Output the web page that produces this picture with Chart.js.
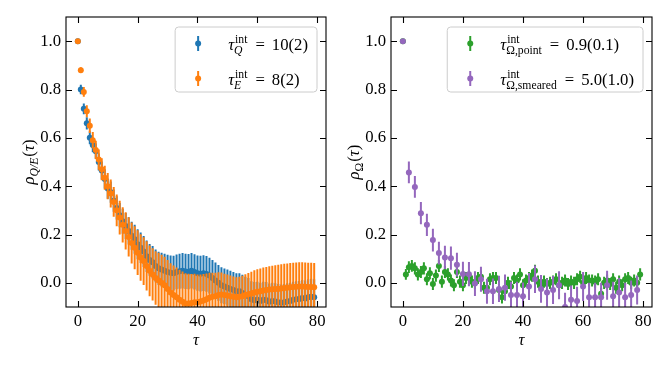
<!DOCTYPE html>
<html>
<head>
<meta charset="utf-8">
<script src="https://cdn.jsdelivr.net/npm/chart.js@4.4.1/dist/chart.umd.min.js"></script>
<style>
  html, body { margin: 0; padding: 0; background: #fff; }
  #wrap { position: relative; width: 670px; height: 365px; }
  .panel { position: absolute; top: 0; }
  #left { left: 0; }
  #right { left: 335px; }
</style>
</head>
<body>
<div id="wrap">
  <div class="panel" id="left"><canvas id="chartQE" width="335" height="365"></canvas></div>
  <div class="panel" id="right"><canvas id="chartOmega" width="335" height="365"></canvas></div>
</div>
<script>
// ---- data: left panel (topological charge Q and energy E) ----
const tauQE = [0, 1, 2, 3, 4, 5, 6, 7, 8, 9, 10, 11, 12, 13, 14, 15, 16, 17, 18, 19,
  20, 21, 22, 23, 24, 25, 26, 27, 28, 29, 30, 31, 32, 33, 34, 35, 36, 37, 38, 39,
  40, 41, 42, 43, 44, 45, 46, 47, 48, 49, 50, 51, 52, 53, 54, 55, 56, 57, 58, 59,
  60, 61, 62, 63, 64, 65, 66, 67, 68, 69, 70, 71, 72, 73, 74, 75, 76, 77, 78, 79];

const rhoQ = [1.0, 0.80, 0.72, 0.66, 0.60, 0.57, 0.545, 0.50, 0.465, 0.43,
  0.39, 0.375, 0.34, 0.31, 0.28, 0.255, 0.235, 0.215, 0.195, 0.18,
  0.16, 0.145, 0.13, 0.11, 0.095, 0.085, 0.07, 0.06, 0.055, 0.05,
  0.045, 0.042, 0.04, 0.045, 0.048, 0.05, 0.047, 0.046, 0.05, 0.045,
  0.04, 0.038, 0.04, 0.037, 0.03, 0.02, 0.01, 0.0, -0.01, -0.015,
  -0.02, -0.025, -0.03, -0.035, -0.035, -0.042, -0.05, -0.055, -0.068, -0.072,
  -0.07, -0.075, -0.07, -0.072, -0.078, -0.075, -0.077, -0.08, -0.082, -0.08,
  -0.077, -0.075, -0.07, -0.068, -0.067, -0.063, -0.065, -0.06, -0.058, -0.06];

const errQ = [0, 0.02, 0.022, 0.025, 0.027, 0.03, 0.032, 0.035, 0.037, 0.04,
  0.042, 0.044, 0.046, 0.048, 0.05, 0.052, 0.054, 0.056, 0.058, 0.06,
  0.062, 0.063, 0.064, 0.065, 0.066, 0.067, 0.068, 0.069, 0.07, 0.07,
  0.071, 0.071, 0.072, 0.072, 0.072, 0.073, 0.073, 0.073, 0.073, 0.073,
  0.073, 0.074, 0.074, 0.074, 0.074, 0.074, 0.074, 0.074, 0.074, 0.074,
  0.075, 0.075, 0.075, 0.075, 0.075, 0.075, 0.075, 0.075, 0.075, 0.075,
  0.075, 0.075, 0.075, 0.075, 0.075, 0.075, 0.075, 0.075, 0.075, 0.075,
  0.075, 0.075, 0.075, 0.075, 0.075, 0.075, 0.075, 0.075, 0.075, 0.075];

const rhoE = [1.0, 0.88, 0.79, 0.71, 0.65, 0.59, 0.55, 0.51, 0.47, 0.435,
  0.40, 0.37, 0.335, 0.30, 0.27, 0.24, 0.215, 0.19, 0.165, 0.145,
  0.125, 0.105, 0.09, 0.07, 0.05, 0.035, 0.02, 0.01, 0.0, -0.01,
  -0.025, -0.04, -0.05, -0.06, -0.07, -0.078, -0.085, -0.085, -0.083, -0.08,
  -0.08, -0.077, -0.073, -0.068, -0.062, -0.058, -0.055, -0.05, -0.048, -0.05,
  -0.052, -0.055, -0.058, -0.06, -0.058, -0.055, -0.05, -0.047, -0.044, -0.04,
  -0.037, -0.035, -0.032, -0.03, -0.028, -0.027, -0.026, -0.025, -0.023, -0.021,
  -0.02, -0.018, -0.017, -0.016, -0.015, -0.015, -0.016, -0.017, -0.017, -0.018];

const errE = [0, 0.012, 0.02, 0.025, 0.03, 0.034, 0.038, 0.042, 0.046, 0.05,
  0.054, 0.058, 0.062, 0.066, 0.07, 0.073, 0.077, 0.081, 0.085, 0.089,
  0.093, 0.096, 0.099, 0.102, 0.105, 0.108, 0.111, 0.114, 0.116, 0.118,
  0.12, 0.121, 0.122, 0.123, 0.124, 0.125, 0.125, 0.123, 0.12, 0.118,
  0.115, 0.112, 0.11, 0.107, 0.104, 0.1, 0.097, 0.094, 0.091, 0.088,
  0.086, 0.085, 0.084, 0.083, 0.083, 0.084, 0.086, 0.088, 0.09, 0.092,
  0.093, 0.094, 0.095, 0.096, 0.097, 0.098, 0.099, 0.1, 0.1, 0.1,
  0.1, 0.1, 0.1, 0.1, 0.1, 0.1, 0.1, 0.1, 0.1, 0.1];

// ---- data: right panel (Omega, point and smeared) ----
const tauPoint = [0, 1, 2, 3, 4, 5, 6, 7, 8, 9, 10, 11, 12, 13, 14, 15, 16, 17, 18, 19,
  20, 21, 22, 23, 24, 25, 26, 27, 28, 29, 30, 31, 32, 33, 34, 35, 36, 37, 38, 39,
  40, 41, 42, 43, 44, 45, 46, 47, 48, 49, 50, 51, 52, 53, 54, 55, 56, 57, 58, 59,
  60, 61, 62, 63, 64, 65, 66, 67, 68, 69, 70, 71, 72, 73, 74, 75, 76, 77, 78, 79];
const rhoPoint = [1.0, 0.035, 0.065, 0.07, 0.06, 0.035, 0.045, 0.06, 0.015, 0.04,
  -0.005, 0.03, 0.07, 0.005, 0.045, 0.035, 0.01, -0.01, 0.045, 0.005,
  -0.01, 0.02, 0.025, 0.005, 0.0, 0.02, 0.025, -0.02, -0.02, 0.015,
  0.02, 0.02, -0.03, -0.06, -0.035, 0.0, -0.015, 0.02, 0.01, 0.035,
  -0.01, 0.01, 0.02, 0.03, 0.05, 0.005, -0.015, 0.005, -0.005, 0.0,
  0.005, 0.015, -0.01, 0.0, 0.01, -0.005, 0.005, 0.0, 0.015, 0.025,
  0.0, 0.02, 0.01, 0.01, 0.005, 0.015, -0.045, 0.0, 0.01, -0.005,
  0.015, -0.02, 0.005, -0.01, 0.015, 0.02, 0.0, 0.01, 0.0, 0.035];
const errPoint = [0, 0.022, 0.024, 0.024, 0.025, 0.025, 0.025, 0.025, 0.025, 0.025,
  0.025, 0.025, 0.025, 0.025, 0.025, 0.025, 0.025, 0.025, 0.025, 0.025,
  0.025, 0.025, 0.025, 0.025, 0.025, 0.025, 0.025, 0.025, 0.025, 0.025,
  0.025, 0.025, 0.025, 0.025, 0.025, 0.025, 0.025, 0.025, 0.025, 0.025,
  0.025, 0.025, 0.025, 0.025, 0.025, 0.025, 0.025, 0.025, 0.025, 0.025,
  0.025, 0.025, 0.025, 0.025, 0.025, 0.025, 0.025, 0.025, 0.025, 0.025,
  0.025, 0.025, 0.025, 0.025, 0.025, 0.025, 0.025, 0.025, 0.025, 0.025,
  0.025, 0.025, 0.025, 0.025, 0.025, 0.025, 0.025, 0.025, 0.025, 0.025];

const tauSmeared = [0, 2, 4, 6, 8, 10, 12, 14, 16, 18, 20, 22, 24, 26, 28, 30, 32, 34, 36, 38,
  40, 42, 44, 46, 48, 50, 52, 54, 56, 58, 60, 62, 64, 66, 68, 70, 72, 74, 76, 78];
const rhoSmeared = [1.0, 0.457, 0.397, 0.288, 0.24, 0.177, 0.123, 0.105, 0.102, 0.075,
  0.037, 0.036, -0.003, 0.015, -0.035, -0.035, -0.025, -0.02, -0.05, -0.05,
  -0.055, -0.015, 0.015, -0.025, -0.04, -0.03, -0.01, -0.1, -0.07, -0.075,
  -0.015, -0.06, -0.06, -0.06, -0.01, -0.055, -0.04, -0.06, -0.05, -0.03];
const errSmeared = [0, 0.045, 0.045, 0.046, 0.046, 0.047, 0.047, 0.048, 0.048, 0.049,
  0.05, 0.05, 0.051, 0.052, 0.052, 0.053, 0.054, 0.054, 0.055, 0.055,
  0.056, 0.056, 0.057, 0.057, 0.058, 0.058, 0.058, 0.059, 0.059, 0.059,
  0.06, 0.06, 0.06, 0.06, 0.06, 0.06, 0.06, 0.06, 0.06, 0.06];

// ---- axes ----
const xTicks = [0, 20, 40, 60, 80];
const yTicks = [0.0, 0.2, 0.4, 0.6, 0.8, 1.0];

// ---- text (rich pieces: t = plain run, sub/sup = script pair, gap = math space) ----
const legendQE = [
  [{ t: 'τ', italic: true }, { sub: 'Q', subItalic: true, sup: 'int' }, { gap: 7 }, { t: '=' }, { gap: 7 }, { t: '10(2)' }],
  [{ t: 'τ', italic: true }, { sub: 'E', subItalic: true, sup: 'int' }, { gap: 7 }, { t: '=' }, { gap: 7 }, { t: '8(2)' }]
];
const legendOmega = [
  [{ t: 'τ', italic: true }, { sub: 'Ω,point', sup: 'int' }, { gap: 7 }, { t: '=' }, { gap: 7 }, { t: '0.9(0.1)' }],
  [{ t: 'τ', italic: true }, { sub: 'Ω,smeared', sup: 'int' }, { gap: 7 }, { t: '=' }, { gap: 7 }, { t: '5.0(1.0)' }]
];
const yTitleQE = [{ t: 'ρ', italic: true }, { sub: 'Q/E', subItalic: true }, { t: '(' }, { t: 'τ', italic: true }, { t: ')' }];
const yTitleOmega = [{ t: 'ρ', italic: true }, { sub: 'Ω' }, { t: '(' }, { t: 'τ', italic: true }, { t: ')' }];
const xTitle = [{ t: 'τ', italic: true }];

const BLUE = '#1f77b4', ORANGE = '#ff7f0e', GREEN = '#2ca02c', PURPLE = '#9467bd';
const SERIF = '"Liberation Serif", "DejaVu Serif", serif';
const FS = 16.7, FS_SMALL = 11.7;

Chart.defaults.font.family = SERIF;
Chart.defaults.font.size = FS;
Chart.defaults.color = '#000';

function fontOf(size, italic) {
  return (italic ? 'italic ' : '') + size + 'px ' + SERIF;
}

function pieceWidth(ctx, p) {
  if (p.gap !== undefined) return p.gap;
  if (p.sub !== undefined || p.sup !== undefined) {
    let a = 0, b = 0;
    if (p.sub) { ctx.font = fontOf(FS_SMALL, p.subItalic); a = ctx.measureText(p.sub).width; }
    if (p.sup) { ctx.font = fontOf(FS_SMALL, false); b = ctx.measureText(p.sup).width + 1; }
    return Math.max(a, b) + 1;
  }
  ctx.font = fontOf(FS, p.italic);
  return ctx.measureText(p.t).width;
}

function richWidth(ctx, pieces) {
  return pieces.reduce((w, p) => w + pieceWidth(ctx, p), 0);
}

// x = left start, y = baseline
function drawRich(ctx, pieces, x, y) {
  ctx.textAlign = 'left';
  ctx.textBaseline = 'alphabetic';
  pieces.forEach(p => {
    const w = pieceWidth(ctx, p);
    if (p.gap !== undefined) {
      // nothing to draw
    } else if (p.sub !== undefined || p.sup !== undefined) {
      if (p.sub) { ctx.font = fontOf(FS_SMALL, p.subItalic); ctx.fillText(p.sub, x, y + 4); }
      if (p.sup) { ctx.font = fontOf(FS_SMALL, false); ctx.fillText(p.sup, x + 1, y - 7); }
    } else {
      ctx.font = fontOf(FS, p.italic);
      ctx.fillText(p.t, x, y);
    }
    x += w;
  });
}

function toPoints(xs, ys) {
  return xs.map((x, i) => ({ x: x, y: ys[i] }));
}

// vertical error bars, drawn right before each dataset's markers
const errorBarPlugin = {
  id: 'errorBars',
  beforeDatasetDraw(chart, args) {
    const ds = chart.data.datasets[args.index];
    if (!ds.errors) return;
    const { ctx, chartArea: a, scales } = chart;
    ctx.save();
    ctx.beginPath();
    ctx.rect(a.left, a.top, a.right - a.left, a.bottom - a.top);
    ctx.clip();
    ctx.strokeStyle = ds.backgroundColor;
    ctx.lineWidth = 2;
    ctx.beginPath();
    ds.data.forEach((p, i) => {
      const e = ds.errors[i];
      if (!e) return;
      const x = scales.x.getPixelForValue(p.x);
      ctx.moveTo(x, scales.y.getPixelForValue(p.y - e));
      ctx.lineTo(x, scales.y.getPixelForValue(p.y + e));
    });
    ctx.stroke();
    ctx.restore();
  }
};

// box, inward ticks on all sides, legend and axis titles
function makeDecorPlugin(cfg) {
  return {
    id: 'decor',
    afterDatasetsDraw(chart) {
      const { ctx, chartArea: a, scales } = chart;
      ctx.save();
      ctx.strokeStyle = '#000';
      ctx.lineWidth = 1.1;
      ctx.strokeRect(a.left, a.top, a.right - a.left, a.bottom - a.top);
      ctx.beginPath();
      scales.x.ticks.forEach(t => {
        const x = Math.round(scales.x.getPixelForValue(t.value)) + 0.5;
        ctx.moveTo(x, a.bottom); ctx.lineTo(x, a.bottom - 6);
        ctx.moveTo(x, a.top); ctx.lineTo(x, a.top + 6);
      });
      scales.y.ticks.forEach(t => {
        const y = Math.round(scales.y.getPixelForValue(t.value)) + 0.5;
        ctx.moveTo(a.left, y); ctx.lineTo(a.left + 6, y);
        ctx.moveTo(a.right, y); ctx.lineTo(a.right - 6, y);
      });
      ctx.stroke();

      // legend
      const textW = Math.max(...cfg.legend.map(l => richWidth(ctx, l)));
      const w = 53 + textW + 9, h = 65;
      const x0 = a.right - 9 - w, y0 = a.top + 10;
      ctx.beginPath();
      ctx.roundRect(x0, y0, w, h, 3.5);
      ctx.fillStyle = 'rgba(255,255,255,0.8)';
      ctx.fill();
      ctx.strokeStyle = '#cccccc';
      ctx.lineWidth = 1;
      ctx.stroke();
      cfg.legend.forEach((label, i) => {
        const cy = y0 + 16.5 + 35 * i;
        const mx = x0 + 23;
        ctx.strokeStyle = cfg.colors[i];
        ctx.lineWidth = 2;
        ctx.beginPath();
        ctx.moveTo(mx, cy - 7.5); ctx.lineTo(mx, cy + 7.5);
        ctx.stroke();
        ctx.fillStyle = cfg.colors[i];
        ctx.beginPath();
        ctx.arc(mx, cy, 3, 0, Math.PI * 2);
        ctx.fill();
        ctx.fillStyle = '#000';
        drawRich(ctx, label, x0 + 53, cy + 6);
      });

      // axis titles
      ctx.fillStyle = '#000';
      const xw = richWidth(ctx, xTitle);
      drawRich(ctx, xTitle, (a.left + a.right) / 2 - xw / 2, 345);
      const yw = richWidth(ctx, cfg.yTitle);
      ctx.translate(cfg.yTitleX, (a.top + a.bottom) / 2);
      ctx.rotate(-Math.PI / 2);
      drawRich(ctx, cfg.yTitle, -yw / 2, 0);
      ctx.restore();
    }
  };
}

function makeOptions(yWidth, padRight) {
  return {
    responsive: false,
    animation: false,
    layout: { padding: { left: 0, right: padRight, top: 17, bottom: 0 } },
    plugins: { legend: { display: false }, tooltip: { enabled: false } },
    scales: {
      x: {
        type: 'linear',
        min: -3.95,
        max: 82.95,
        afterBuildTicks: s => { s.ticks = xTicks.map(v => ({ value: v })); },
        afterFit: s => { s.height = 58; },
        grid: { display: false, drawTicks: false },
        border: { display: false },
        ticks: { color: '#000', padding: 5, maxRotation: 0, callback: v => String(v) }
      },
      y: {
        type: 'linear',
        min: -0.1,
        max: 1.1,
        afterBuildTicks: s => { s.ticks = yTicks.map(v => ({ value: v })); },
        afterFit: s => { s.width = yWidth; },
        grid: { display: false, drawTicks: false },
        border: { display: false },
        ticks: { color: '#000', padding: 5, callback: v => v.toFixed(1) }
      }
    }
  };
}

function seriesDataset(xs, ys, errs, color, order) {
  return {
    data: toPoints(xs, ys),
    errors: errs,
    backgroundColor: color,
    borderColor: color,
    pointRadius: 3,
    pointBorderWidth: 0,
    pointHoverRadius: 3,
    order: order,
    clip: 0
  };
}

new Chart(document.getElementById('chartQE'), {
  type: 'scatter',
  data: {
    datasets: [
      seriesDataset(tauQE, rhoQ, errQ, BLUE, 1),
      seriesDataset(tauQE, rhoE, errE, ORANGE, 0)
    ]
  },
  options: makeOptions(66, 9),
  plugins: [errorBarPlugin, makeDecorPlugin({ legend: legendQE, colors: [BLUE, ORANGE], yTitle: yTitleQE, yTitleX: 34 })]
});

new Chart(document.getElementById('chartOmega'), {
  type: 'scatter',
  data: {
    datasets: [
      seriesDataset(tauPoint, rhoPoint, errPoint, GREEN, 1),
      seriesDataset(tauSmeared, rhoSmeared, errSmeared, PURPLE, 0)
    ]
  },
  options: makeOptions(56, 18),
  plugins: [errorBarPlugin, makeDecorPlugin({ legend: legendOmega, colors: [GREEN, PURPLE], yTitle: yTitleOmega, yTitleX: 24 })]
});
</script>
</body>
</html>
